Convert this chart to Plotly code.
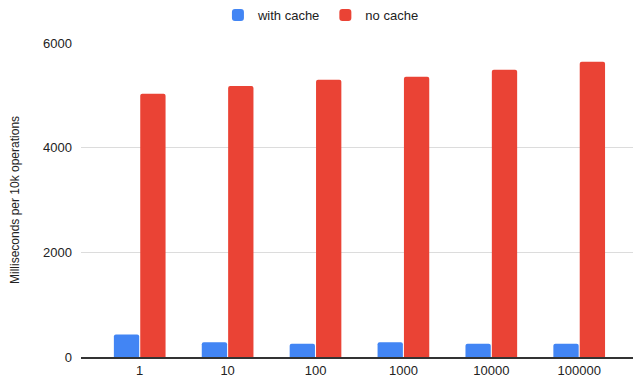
import plotly.graph_objects as go

# Cache benchmark: time per 10k operations for different cache sizes
categories = ["1", "10", "100", "1000", "10000", "100000"]
with_cache = [430, 280, 255, 280, 255, 255]
no_cache = [5030, 5180, 5300, 5355, 5490, 5640]

BLUE = "#4285F4"
RED = "#EA4335"
FONT = "Liberation Sans, Arial, sans-serif"

fig = go.Figure()
fig.add_trace(go.Bar(name="with cache", x=categories, y=with_cache,
                     marker=dict(color=BLUE, line=dict(width=0))))
fig.add_trace(go.Bar(name="no cache", x=categories, y=no_cache,
                     marker=dict(color=RED, line=dict(width=0))))

fig.update_layout(
    width=633, height=383,
    margin=dict(l=81, r=0, t=43, b=26),
    paper_bgcolor="white", plot_bgcolor="white",
    font=dict(family=FONT, size=13, color="#222222"),
    barmode="group", bargap=0.4, bargroupgap=0.04, barcornerradius=2,
    legend=dict(orientation="h", xref="container", x=0.507, xanchor="center",
                yref="container", y=1.0, yanchor="top",
                font=dict(size=13, color="#222222"), itemwidth=30),
    showlegend=True,
)
fig.update_xaxes(type="category", range=[-0.668, 5.612], showgrid=False,
                 showline=True, linecolor="#333333", linewidth=1.5,
                 ticks="", tickfont=dict(size=13, color="#222222"),
                 ticklabelstandoff=1)
fig.update_yaxes(range=[0, 6000], dtick=2000, tickformat="d",
                 showgrid=True, gridcolor="#dcdcdc", gridwidth=1,
                 zeroline=False, showline=False, ticks="",
                 tickfont=dict(size=13, color="#222222"),
                 ticklabelstandoff=8,
                 title=dict(text="Milliseconds per 10k operations",
                            font=dict(size=12, color="#222222"), standoff=20))

fig.write_html("out.html", config={"displayModeBar": False})
